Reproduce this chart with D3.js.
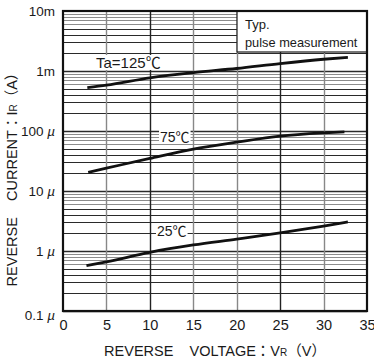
<!DOCTYPE html>
<html>
<head>
<meta charset="utf-8">
<script src="https://cdn.jsdelivr.net/npm/d3@7"></script>
<style>
  body { margin: 0; background: #fff; }
  svg text { font-family: "Liberation Sans", Arial, "Noto Sans CJK JP", sans-serif; fill: #1a1a1a; }
</style>
</head>
<body>
<div id="chart"></div>
<script>
// values (voltage in V, current in A)
var v125 = [2.8, 5, 10, 15, 20, 25, 30, 32.8],
    i125 = [0.53e-3, 0.58e-3, 0.77e-3, 0.94e-3, 1.1e-3, 1.33e-3, 1.57e-3, 1.69e-3];
var v75 = [2.9, 5, 10, 15, 20, 25, 30, 32.4],
    i75 = [20.5e-6, 24e-6, 35e-6, 50e-6, 65e-6, 82e-6, 93e-6, 97e-6];
var v25 = [2.7, 5, 10, 15, 20, 25, 30, 32.8],
    i25 = [0.57e-6, 0.66e-6, 0.95e-6, 1.26e-6, 1.58e-6, 2.0e-6, 2.6e-6, 3.05e-6];

var xTicks = [0, 5, 10, 15, 20, 25, 30, 35];
var yTicks = [1e-7, 1e-6, 1e-5, 1e-4, 1e-3, 1e-2];
var yTickNum = ['0.1', '1', '10', '100', '1m', '10m'];   // µ added for the first four
var darkV = [10, 25];

var width = 374, height = 363;
var x = d3.scaleLinear().domain([0, 35]).range([63, 367]),
    y = d3.scaleLog().domain([1e-7, 1e-2]).range([311, 11]);

var svg = d3.select('#chart').append('svg')
    .attr('width', width).attr('height', height);

var grid = svg.append('g');

// horizontal grid: decades plus 2..9
var hLines = [];
yTicks.slice(0, -1).forEach(function (d) {
    for (var m = 1; m < 10; m++) hLines.push({ v: d * m, m: m });
});
grid.selectAll('line.h').data(hLines).enter().append('line')
    .attr('x1', x(0)).attr('x2', x(35))
    .attr('y1', function (d) { return Math.round(y(d.v)) + 0.5; })
    .attr('y2', function (d) { return Math.round(y(d.v)) + 0.5; })
    .attr('stroke', function (d) { return d.m >= 6 ? '#8c8c8c' : '#2a2a2a'; })
    .attr('stroke-width', function (d) { return d.m === 1 ? 1.3 : 1; });

// vertical grid
grid.selectAll('line.v').data(xTicks.slice(1, -1)).enter().append('line')
    .attr('x1', function (d) { return Math.round(x(d)) + 0.5; })
    .attr('x2', function (d) { return Math.round(x(d)) + 0.5; })
    .attr('y1', y(1e-2)).attr('y2', y(1e-7))
    .attr('stroke', function (d) { return darkV.indexOf(d) >= 0 ? '#222' : '#888'; })
    .attr('stroke-width', 1.4);

// legend box top right
svg.append('rect')
    .attr('x', 237).attr('y', y(1e-2)).attr('width', x(35) - 237).attr('height', 41)
    .attr('fill', '#fff').attr('stroke', '#1a1a1a').attr('stroke-width', 1.2);
svg.append('text').attr('x', 245).attr('y', 29).attr('font-size', 13).text('Typ.');
svg.append('text').attr('x', 245).attr('y', 47).attr('font-size', 12.8).text('pulse measurement');

// curves
var line = d3.line()
    .x(function (d) { return x(d[0]); })
    .y(function (d) { return y(d[1]); })
    .curve(d3.curveMonotoneX);

var series = [
    { v: v125, i: i125 },
    { v: v75, i: i75 },
    { v: v25, i: i25 }
];
svg.append('g').selectAll('path').data(series).enter().append('path')
    .attr('d', function (s) { return line(s.v.map(function (v, k) { return [v, s.i[k]]; })); })
    .attr('fill', 'none').attr('stroke', '#111').attr('stroke-width', 2.8);

// curve labels with white backing
var labels = [
    { t: 'Ta=125℃', x: 96, y: 68, s: 15 },
    { t: '75℃', x: 160, y: 142, s: 14 },
    { t: '25℃', x: 157, y: 236, s: 14 }
];
var lab = svg.append('g').selectAll('g').data(labels).enter().append('g');
lab.append('text')
    .attr('x', function (d) { return d.x; }).attr('y', function (d) { return d.y; })
    .attr('font-size', function (d) { return d.s; }).text(function (d) { return d.t; })
    .each(function (d) { d.box = this.getBBox(); });
lab.insert('rect', 'text')
    .attr('x', function (d) { return d.box.x - 1; }).attr('y', function (d) { return d.box.y + 1; })
    .attr('width', function (d) { return d.box.width + 2; }).attr('height', function (d) { return d.box.height - 2; })
    .attr('fill', '#fff');

// frame
svg.append('rect')
    .attr('x', x(0)).attr('y', y(1e-2)).attr('width', x(35) - x(0)).attr('height', y(1e-7) - y(1e-2))
    .attr('fill', 'none').attr('stroke', '#111').attr('stroke-width', 2.2);

// axes
var yAxis = svg.append('g').attr('transform', 'translate(' + (x(0) - 5) + ',0)')
    .call(d3.axisLeft(y).tickValues(yTicks).tickSize(0).tickFormat(function (d, k) { return yTickNum[k]; }));
yAxis.select('.domain').remove();
yAxis.selectAll('text').attr('font-size', 13.5).attr('fill', '#1a1a1a')
    .attr('font-family', '"Liberation Sans", Arial, sans-serif')
    .each(function (d, k) {
        if (k < 4) {
            d3.select(this).append('tspan').attr('font-style', 'italic').text(' µ');
        }
    });
yAxis.selectAll('.tick').filter(function (d) { return d === 1e-7; })
    .select('text').attr('dy', '0.65em');

// the last tick label sits on the window edge, as in the reference
var xAxis = svg.append('g').attr('transform', 'translate(0,' + (y(1e-7) + 6) + ')')
    .call(d3.axisBottom(x).tickValues(xTicks).tickSize(0));
xAxis.select('.domain').remove();
xAxis.selectAll('text').attr('font-size', 14.5).attr('fill', '#1a1a1a')
    .attr('font-family', '"Liberation Sans", Arial, sans-serif');

// axis titles
var xt = svg.append('text').attr('x', 215).attr('y', 356).attr('text-anchor', 'middle')
    .attr('font-size', 14.5);
xt.append('tspan').text('REVERSE\u00a0\u00a0\u00a0\u00a0VOLTAGE：V');
xt.append('tspan').attr('font-size', 10).text('R');
xt.append('tspan').text('（V）');

var yt = svg.append('text').attr('transform', 'translate(17,176) rotate(-90)')
    .attr('text-anchor', 'middle').attr('font-size', 14.5);
yt.append('tspan').text('REVERSE\u00a0\u00a0\u00a0\u00a0CURRENT：I');
yt.append('tspan').attr('font-size', 10).text('R');
yt.append('tspan').text('（A）');
</script>
</body>
</html>
